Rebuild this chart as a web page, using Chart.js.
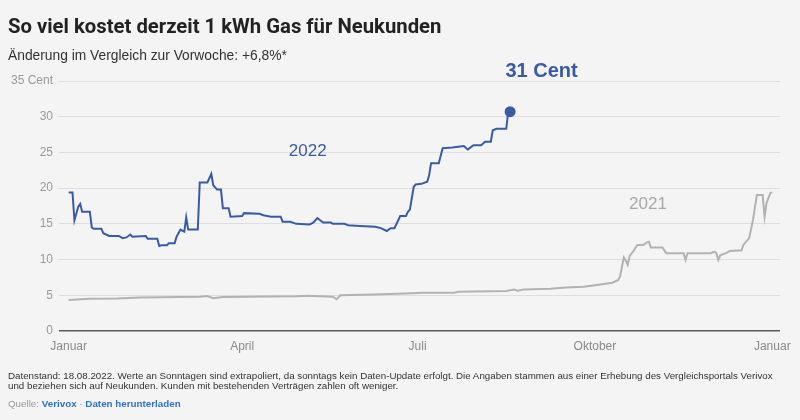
<!DOCTYPE html>
<html lang="de">
<head>
<meta charset="utf-8">
<script src="https://cdn.jsdelivr.net/npm/chart.js@4"></script>
<style>
  html, body { margin: 0; padding: 0; background: #f4f4f4; }
  #wrap { position: relative; width: 800px; height: 420px; overflow: hidden; font-family: "Liberation Sans", Arial, sans-serif; }
  #chart { position: absolute; left: 0; top: 0; }
  .title { position: absolute; left: 8px; top: 14px; font: 700 20.3px Roboto, sans-serif; color: #222; white-space: nowrap; }
  .subtitle { position: absolute; left: 8px; top: 48px; font-size: 13.8px; color: #333; white-space: nowrap; }
  .note { position: absolute; left: 8px; top: 371px; font-size: 9.75px; line-height: 10px; color: #333; white-space: nowrap; }
  .source { position: absolute; left: 8px; top: 398px; font-size: 9.8px; color: #999; white-space: nowrap; }
  .source b { color: #2c73c9; }
</style>
</head>
<body>
<div id="wrap">
  <canvas id="chart" width="800" height="420"></canvas>
  <div class="title">So viel kostet derzeit 1 kWh Gas für Neukunden</div>
  <div class="subtitle">Änderung im Vergleich zur Vorwoche: +6,8%*</div>
  <div class="note">Datenstand: 18.08.2022. Werte an Sonntagen sind extrapoliert, da sonntags kein Daten-Update erfolgt. Die Angaben stammen aus einer Erhebung des Vergleichsportals Verivox<br>und beziehen sich auf Neukunden. Kunden mit bestehenden Verträgen zahlen oft weniger.</div>
  <div class="source">Quelle: <b>Verivox</b> · <b>Daten herunterladen</b></div>
</div>
<script>
// day of year (0 = 1. Januar) and price in Cent per kWh
let days2022 = [0, 2, 3, 5, 6, 7, 11, 12, 13, 17, 18, 21, 26, 28, 30, 32, 33, 40, 41, 46,
  47, 48, 51, 52, 55, 56, 58, 60, 61, 62, 67, 68, 72, 74, 75, 77, 79, 80, 83, 84,
  90, 91, 99, 101, 105, 110, 111, 115, 118, 125, 127, 129, 130, 132, 136, 137, 143, 145, 151, 159,
  162, 165, 167, 169, 172, 175, 176, 177, 179, 180, 183, 186, 187, 188, 192, 194, 199, 202, 205, 207,
  208, 210, 214, 216, 219, 220, 222, 227, 228, 229];
let cents2022 = [19.4, 19.4, 15.5, 17.4, 17.8, 16.7, 16.7, 14.5, 14.3, 14.3, 13.7, 13.3, 13.3, 13.0, 13.1, 13.5, 13.2, 13.3, 12.9, 12.9,
  11.9, 12.0, 12.0, 12.3, 12.3, 13.2, 14.2, 13.9, 15.9, 14.2, 14.2, 20.8, 20.8, 22.0, 20.4, 19.8, 19.8, 17.2, 17.2, 16.0,
  16.1, 16.5, 16.4, 16.2, 16.0, 16.0, 15.3, 15.3, 15.0, 14.9, 15.2, 15.8, 15.6, 15.2, 15.2, 15.0, 15.0, 14.8, 14.7, 14.6,
  14.4, 14.0, 14.4, 14.4, 16.1, 16.1, 16.7, 17.0, 20.2, 20.5, 20.6, 20.9, 21.8, 23.5, 23.5, 25.6, 25.7, 25.8, 25.9, 25.4,
  25.6, 26.0, 26.0, 26.5, 26.5, 28.1, 28.3, 28.3, 30.7, 30.7];

let days2021 = [0, 11, 25, 37, 68, 72, 75, 80, 118, 124, 137, 139, 141, 158, 175, 184, 200, 202, 227, 231,
  233, 236, 250, 258, 267, 274, 282, 285, 286, 288, 289, 290, 291, 293, 295, 298, 300, 301, 302, 308,
  310, 319, 320, 321, 333, 335, 336, 337, 338, 341, 343, 349, 350, 353, 355, 357, 360, 361, 362, 364, 365];
let cents2021 = [4.35, 4.5, 4.55, 4.7, 4.8, 4.9, 4.6, 4.75, 4.85, 4.95, 4.8, 4.45, 5.0, 5.1, 5.25, 5.35, 5.35, 5.5, 5.6, 5.8,
  5.65, 5.8, 5.9, 6.1, 6.2, 6.45, 6.75, 7.1, 7.6, 10.3, 9.85, 9.25, 10.5, 11.2, 12.05, 12.05, 12.4, 12.5, 11.7, 11.7,
  10.9, 10.9, 9.95, 10.9, 10.9, 11.1, 10.9, 9.95, 10.6, 10.9, 11.2, 11.3, 12.05, 13.0, 15.55, 19.05, 19.05, 16.0, 17.9, 19.3, 19.4];

let monthTicks = [0, 90, 181, 273, 365];
let monthLabels = ['Januar', 'April', 'Juli', 'Oktober', 'Januar'];
let yTicks = [0, 5, 10, 15, 20, 25, 30, 35];

const blue = '#3a5ba4';
const grey = '#b2b2b2';

function points(xs, ys) {
  return xs.map((d, i) => ({ x: d, y: ys[i] }));
}

const lastIdx = days2022.length - 1;

// series labels, placed in data coordinates
const labels = [
  { text: '2022', x: 124, y: 25.1, font: '17px "Liberation Sans", Arial', color: blue },
  { text: '2021', x: 300.5, y: 17.7, font: '17px "Liberation Sans", Arial', color: '#a8a8a8' },
  { text: Math.round(cents2022[lastIdx]) + ' Cent', x: 245.3, y: 36.4, font: 'bold 20px "Liberation Sans", Arial', color: blue }
];

const labelPlugin = {
  id: 'seriesLabels',
  afterDatasetsDraw(chart) {
    const ctx = chart.ctx;
    const xs = chart.scales.x, ys = chart.scales.y;
    ctx.save();
    ctx.textAlign = 'center';
    ctx.textBaseline = 'middle';
    labels.forEach(l => {
      ctx.font = l.font;
      ctx.fillStyle = l.color;
      ctx.fillText(l.text, xs.getPixelForValue(l.x), ys.getPixelForValue(l.y));
    });
    ctx.restore();
  }
};

new Chart(document.getElementById('chart'), {
  type: 'line',
  data: {
    datasets: [{
      label: '2022',
      data: points(days2022, cents2022),
      borderColor: blue,
      backgroundColor: blue,
      borderWidth: 2,
      pointRadius: c => c.dataIndex === lastIdx ? 4.5 : 0,
      pointHoverRadius: 0,
      tension: 0
    }, {
      label: '2021',
      data: points(days2021, cents2021),
      borderColor: grey,
      borderWidth: 2,
      pointRadius: 0,
      tension: 0
    }]
  },
  options: {
    responsive: false,
    animation: false,
    events: [],
    layout: { padding: { top: 81, bottom: 54, left: 0, right: 20 } },
    plugins: {
      legend: { display: false },
      tooltip: { enabled: false }
    },
    scales: {
      x: {
        type: 'linear',
        min: -5,
        max: 369,
        afterBuildTicks: s => { s.ticks = monthTicks.map(v => ({ value: v })); },
        afterFit: s => { s.height = 35; },
        ticks: {
          autoSkip: false,
          maxRotation: 0,
          padding: 8,
          color: '#8a8a8a',
          font: { family: '"Liberation Sans", Arial', size: 12 },
          callback: v => monthLabels[monthTicks.indexOf(v)]
        },
        grid: { display: false, drawTicks: false },
        border: { display: false }
      },
      y: {
        min: 0,
        max: 35,
        afterBuildTicks: s => { s.ticks = yTicks.map(v => ({ value: v })); },
        afterFit: s => { s.width = 59; },
        ticks: {
          padding: 6,
          color: '#999',
          font: { family: '"Liberation Sans", Arial', size: 12 },
          callback: v => v === 35 ? '35 Cent' : String(v)
        },
        grid: {
          drawTicks: false,
          color: c => c.tick && c.tick.value === 0 ? '#5a5a5a' : '#dedede',
          lineWidth: c => c.tick && c.tick.value === 0 ? 1.5 : 1
        },
        border: { display: false }
      }
    }
  },
  plugins: [labelPlugin]
});
</script>
</body>
</html>
